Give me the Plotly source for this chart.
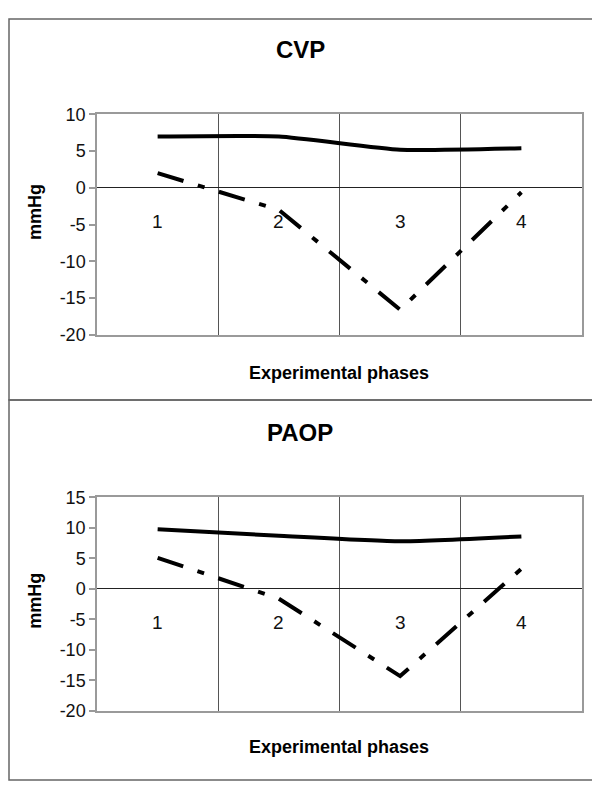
import plotly.graph_objects as go

# ---- data ----
phases = [1, 2, 3, 4]
phase_labels = ["1", "2", "3", "4"]
cvp_solid = [7.0, 7.0, 5.2, 5.4]
cvp_dash = [2.0, -3.0, -16.6, -0.6]
paop_solid = [9.8, 8.7, 7.8, 8.6]
paop_dash = [5.1, -1.6, -14.3, 3.3]
cvp_ticks = [10, 5, 0, -5, -10, -15, -20]
paop_ticks = [15, 10, 5, 0, -5, -10, -15, -20]
titles = ["CVP", "PAOP"]
y_title = "mmHg"
x_title = "Experimental phases"

# page is 600x800; the default body margin of 8px offsets the figure
OFF = 8
W, H = 600 - OFF, 800 - 2 * OFF
FONT = "Liberation Sans"


def px(x):
    return (x - OFF) / W


def py(y):
    return 1 - (y - OFF) / H


def tick_text(vals):
    return [str(v) for v in vals]  # hyphen minus, as in the original


fig = go.Figure()

dash_pat = "27px,15px,7px,15px"

fig.add_trace(go.Scatter(x=phases, y=cvp_solid, mode="lines", xaxis="x", yaxis="y",
                         line=dict(color="black", width=4, shape="spline", smoothing=0.5),
                         showlegend=False, hoverinfo="skip"))
fig.add_trace(go.Scatter(x=phases, y=cvp_dash, mode="lines", xaxis="x", yaxis="y",
                         line=dict(color="black", width=4, dash=dash_pat),
                         showlegend=False, hoverinfo="skip"))
fig.add_trace(go.Scatter(x=phases, y=paop_solid, mode="lines", xaxis="x2", yaxis="y2",
                         line=dict(color="black", width=4, shape="spline", smoothing=0.5),
                         showlegend=False, hoverinfo="skip"))
fig.add_trace(go.Scatter(x=phases, y=paop_dash, mode="lines", xaxis="x2", yaxis="y2",
                         line=dict(color="black", width=4, dash=dash_pat),
                         showlegend=False, hoverinfo="skip"))

xdom = [px(97), px(582)]
xaxis_common = dict(
    range=[0.5, 4.5], tickvals=[1.5, 2.5, 3.5], showticklabels=False, ticks="",
    showgrid=True, gridcolor="#555555", gridwidth=1, zeroline=False,
    showline=True, linecolor="#9a9a9a", linewidth=1.5, mirror=True, domain=xdom,
)
yaxis_common = dict(
    showgrid=False, zeroline=True, zerolinecolor="#222222", zerolinewidth=1,
    showline=True, linecolor="#9a9a9a", linewidth=1.5, mirror=True,
    ticks="outside", ticklen=6, tickcolor="#9a9a9a", tickwidth=1.5,
    tickfont=dict(family=FONT, size=18, color="#111111"),
)

fig.update_layout(
    width=W, height=H, margin=dict(l=0, r=0, t=0, b=0),
    paper_bgcolor="white", plot_bgcolor="white",
    xaxis=dict(**xaxis_common, anchor="y"),
    yaxis=dict(**yaxis_common, anchor="x",
               range=[-20, 10], tickvals=cvp_ticks, ticktext=tick_text(cvp_ticks),
               domain=[py(333), py(107)]),
    xaxis2=dict(**xaxis_common, anchor="y2"),
    yaxis2=dict(**yaxis_common, anchor="x2",
                range=[-20, 15], tickvals=paop_ticks, ticktext=tick_text(paop_ticks),
                domain=[py(719), py(500)]),
)

annotations = []
# category labels below zero line
for xr, yr in (("x", "y"), ("x2", "y2")):
    for p, lab in zip(phases, phase_labels):
        annotations.append(dict(x=p, y=0, xref=xr, yref=yr, text=lab, showarrow=False,
                                yanchor="middle", yshift=-34,
                                font=dict(family=FONT, size=19, color="#111111")))

# titles and axis titles
for title, ty, yt_y, xt_y in ((titles[0], 40, 207, 372), (titles[1], 433, 606, 756)):
    annotations.append(dict(x=px(300), y=py(ty), xref="paper", yref="paper", text=f"<b>{title}</b>",
                            showarrow=False, xanchor="center", yanchor="middle",
                            font=dict(family=FONT, size=24, color="black")))
    annotations.append(dict(x=px(35), y=py(yt_y), xref="paper", yref="paper", text=f"<b>{y_title}</b>",
                            showarrow=False, xanchor="center", yanchor="middle", textangle=-90,
                            font=dict(family=FONT, size=18, color="black")))
    annotations.append(dict(x=px(339), y=py(xt_y), xref="paper", yref="paper", text=f"<b>{x_title}</b>",
                            showarrow=False, xanchor="center", yanchor="middle",
                            font=dict(family=FONT, size=18, color="black")))

fig.update_layout(annotations=annotations)

# panel borders
fig.update_layout(shapes=[
    dict(type="rect", xref="paper", yref="paper", x0=px(9), x1=px(594), y0=py(400), y1=py(9),
         line=dict(color="#666666", width=1.5)),
    dict(type="rect", xref="paper", yref="paper", x0=px(9), x1=px(594), y0=py(790), y1=py(400),
         line=dict(color="#666666", width=1.5)),
])

fig.write_html("out.html")
